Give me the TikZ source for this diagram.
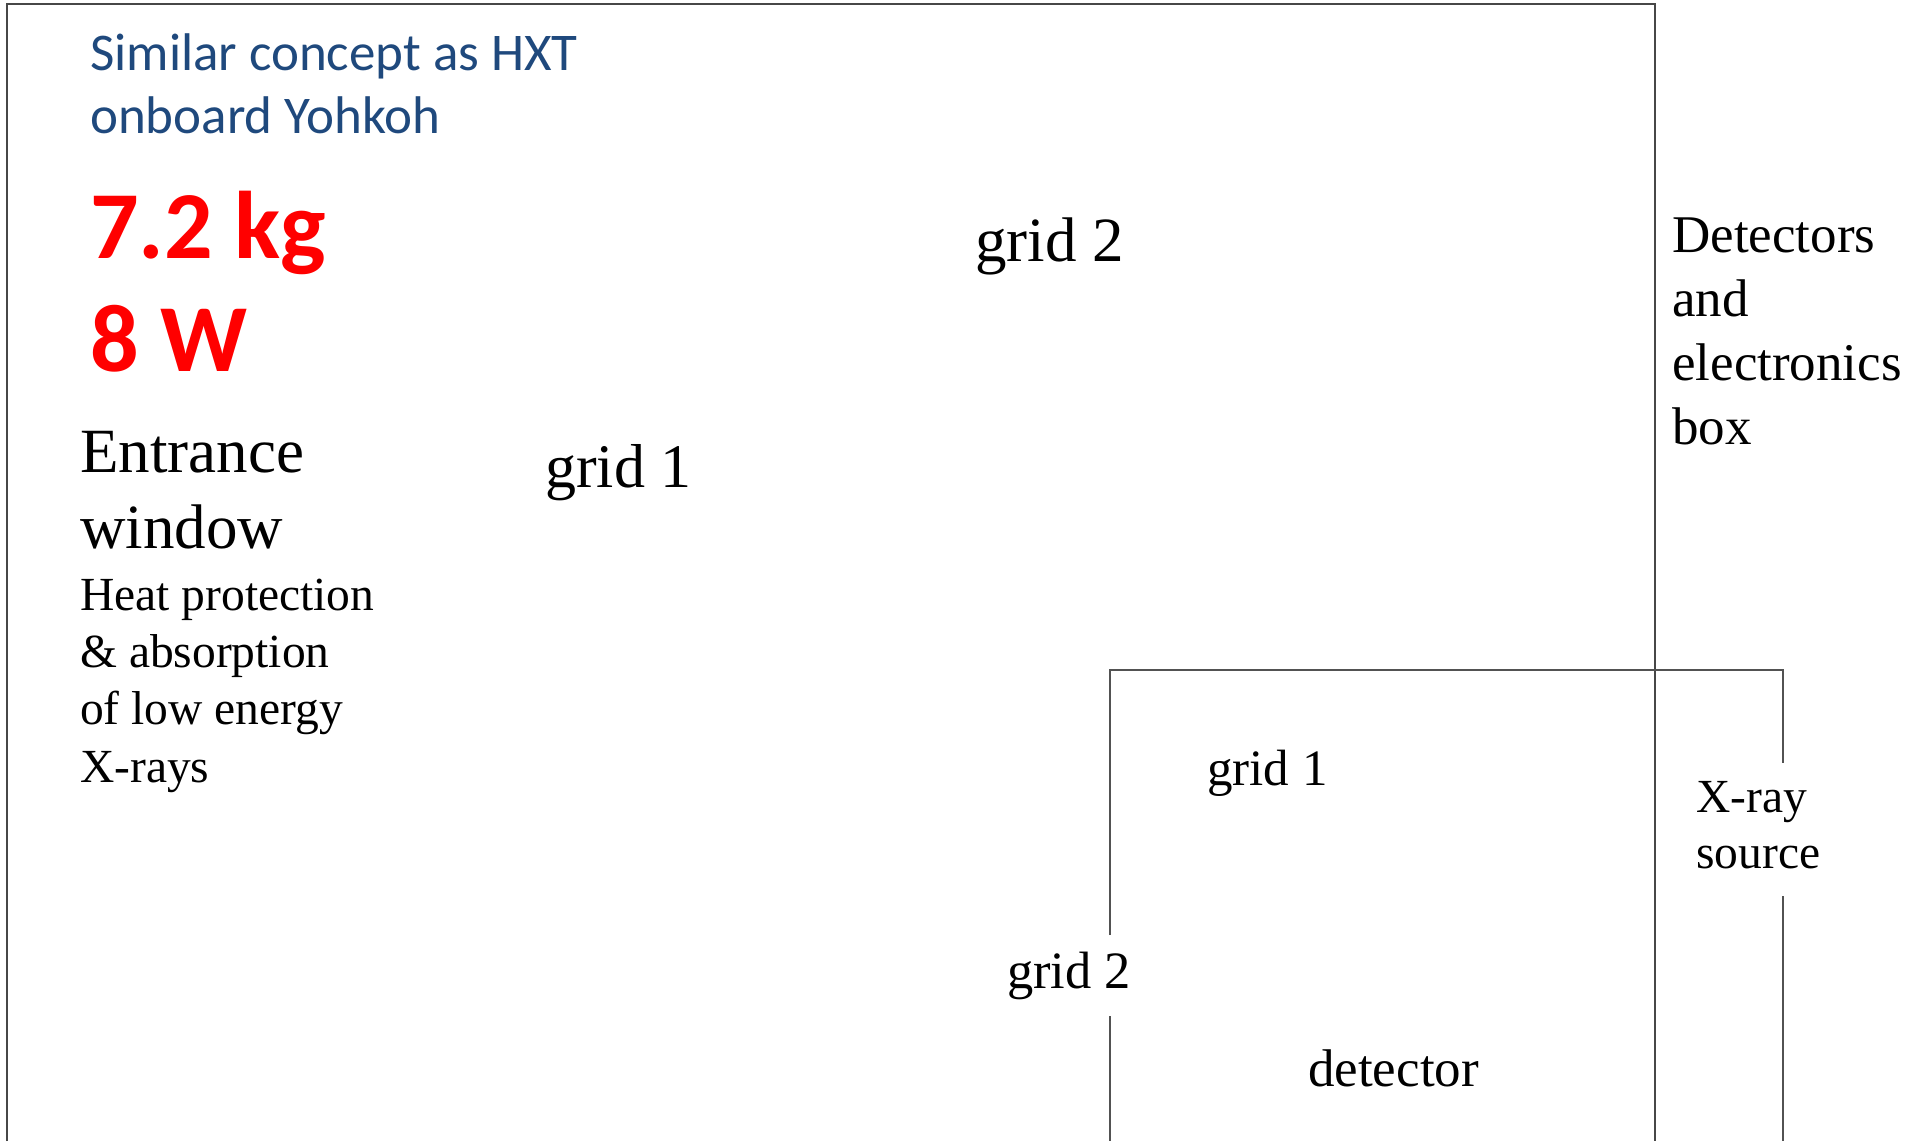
\documentclass[tikz,border=0pt]{standalone}
\usepackage{fontspec}
\setmainfont{Liberation Serif}
\newfontfamily\calibrifont{Carlito}
\definecolor{titleblue}{HTML}{1F497D}
\definecolor{massred}{HTML}{FF0000}

\begin{document}
\begin{tikzpicture}[x=1pt,y=-1pt,
  outerline/.style={draw=black!72, line width=2pt},
  innerline/.style={draw=black!68, line width=1.5pt},
  lbl/.style={anchor=base west, inner sep=0pt, align=left},
  fsz/.style n args={2}{font=\fontsize{#1}{#2}\selectfont}]
  \useasboundingbox (0,0) rectangle (1924,1141);

  % instrument housing (open at the bottom)
  \coordinate (hbl) at (7,1141);
  \coordinate (htl) at (7,4);
  \coordinate (htr) at (1655,4);
  \coordinate (hbr) at (1655,1141);
  \draw[outerline] (hbl) -- (htl) -- (htr) -- (hbr);

  % detectors and electronics box
  \coordinate (btl) at (1110,670);
  \coordinate (btr) at (1783,670);
  \coordinate (bl1) at (1110,935);
  \coordinate (bl2) at (1110,1016);
  \coordinate (bl3) at (1110,1141);
  \coordinate (br1) at (1783,763);
  \coordinate (br2) at (1783,896);
  \coordinate (br3) at (1783,1141);
  \draw[innerline] (bl1) -- (btl) -- (btr) -- (br1);
  \draw[innerline] (bl2) -- (bl3);
  \draw[innerline] (br2) -- (br3);

  % annotations (multi-line labels are placed by the baseline of their last line)
  \node[lbl, font=\calibrifont\fontsize{53}{63}\selectfont, text=titleblue] (concept) at (90,133)
    {Similar concept as HXT\\onboard Yohkoh};
  \node[lbl, font=\calibrifont\bfseries\fontsize{96}{113}\selectfont, text=massred] (budget) at (90,371)
    {7.2 kg\\8 W};
  \node[lbl, fsz={63}{76}] (window) at (80,548) {Entrance\\window};
  \node[lbl, fsz={47.5}{57.3}] (heat) at (80,782)
    {Heat protection\\\& absorption\\of low energy\\X-rays};
  \node[lbl, fsz={62}{74}] (gridA) at (545,487) {grid 1};
  \node[lbl, fsz={63}{75}] (gridB) at (975,261) {grid 2};
  \node[lbl, fsz={53}{64}] (ebox) at (1672,444) {Detectors\\and\\electronics\\box};
  \node[lbl, fsz={51}{61}] (gridAin) at (1207,785) {grid 1};
  \node[lbl, fsz={47.5}{56}] (xsrc) at (1696,868) {X-ray\\source};
  \node[lbl, fsz={52.5}{63}] (gridBin) at (1007,988) {grid 2};
  \node[lbl, fsz={53}{64}] (det) at (1308,1086) {detector};
\end{tikzpicture}
\end{document}
